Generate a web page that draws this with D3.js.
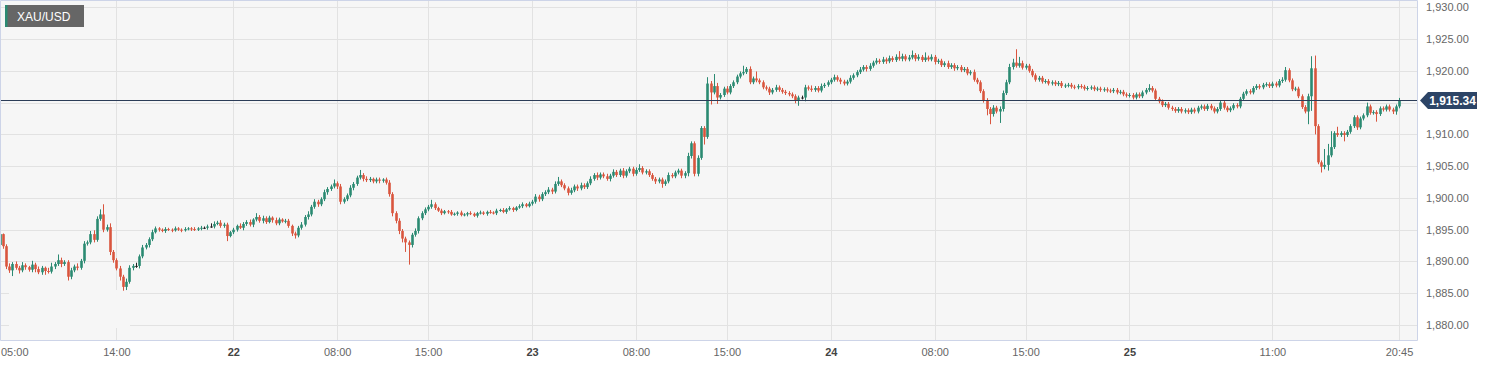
<!DOCTYPE html>
<html>
<head>
<meta charset="utf-8">
<script src="https://cdn.jsdelivr.net/npm/d3@7"></script>
<style>
  html, body { margin: 0; padding: 0; background: #fff; }
  svg { display: block; font-family: "Liberation Sans", Arial, Helvetica, sans-serif; }
</style>
</head>
<body>
<div id="chart"></div>
<script>
// XAU/USD 15-minute candles, 21st 05:00 -> 25th 20:45 (hour 22 closed each day)
var symbol = "XAU/USD";
var lastPrice = 1915.34;
var firstOpen = 1892.6;

var close21 = [
  1894.3,1892.4,1889.2,1888.6,1889.6,1889.0,1888.6,1889.4,1889.1,1888.7,
  1889.5,1888.8,1888.3,1889.0,1888.5,1888.4,1889.2,1889.6,1890.2,1889.6,
  1889.9,1887.6,1888.6,1889.2,1889.0,1890.1,1892.8,1893.0,1894.3,1893.4,
  1896.7,1897.4,1895.0,1895.4,1891.5,1890.2,1888.9,1887.6,1886.0,1886.8,
  1889.0,1889.3,1889.3,1890.8,1892.2,1892.6,1893.5,1894.6,1895.2,1895.0,
  1894.8,1895.1,1895.0,1894.9,1895.2,1895.0,1894.9,1895.1,1895.2,1895.1,
  1895.0,1895.2,1895.3,1895.3,1895.5,1895.5,1895.9,1896.1,1895.6,1895.8,
  1894.0,1894.6
];
var close22 = [
  1895.0,1895.6,1895.3,1895.9,1896.2,1895.8,1896.6,1897.0,1896.4,1896.8,
  1896.2,1896.9,1896.5,1896.0,1896.6,1896.3,1896.4,1895.6,1894.4,1894.1,
  1895.3,1895.8,1897.0,1897.4,1898.6,1899.4,1899.0,1899.8,1900.9,1901.4,
  1901.8,1902.3,1901.8,1899.4,1899.8,1900.4,1901.6,1902.2,1903.2,1903.6,
  1903.0,1902.8,1903.0,1902.6,1902.9,1902.7,1902.9,1902.4,1900.6,1897.6,
  1896.4,1894.8,1893.6,1893.0,1892.6,1894.2,1894.8,1896.8,1897.6,1898.2,
  1898.6,1899.0,1898.4,1898.0,1897.6,1897.9,1897.8,1897.4,1897.5,1897.7,
  1897.3,1897.4,1897.6,1897.5,1897.2,1897.6,1897.7,1897.5,1897.8,1897.7,
  1897.6,1898.0,1898.1,1897.8,1898.2,1898.4,1898.1,1898.5,1898.7,1899.0,
  1898.7,1899.1
];
var close23 = [
  1899.4,1900.2,1899.8,1900.6,1900.9,1901.3,1901.0,1902.2,1902.6,1902.0,
  1901.5,1900.8,1901.2,1901.8,1901.5,1902.0,1901.7,1902.3,1903.0,1903.6,
  1903.2,1903.7,1903.4,1903.0,1903.5,1904.1,1903.6,1904.3,1903.5,1904.2,
  1904.6,1903.8,1904.4,1904.7,1904.0,1904.2,1903.6,1903.0,1902.6,1902.9,
  1902.2,1902.6,1903.6,1903.4,1904.0,1904.3,1903.5,1903.9,1906.6,1908.6,
  1903.8,1906.3,1911.0,1909.6,1918.0,1916.6,1917.6,1915.8,1916.2,1917.2,
  1916.6,1917.6,1918.2,1919.1,1919.6,1919.8,1920.3,1918.2,1918.8,1918.5,
  1918.2,1917.4,1917.2,1916.6,1917.0,1917.4,1917.0,1916.7,1916.5,1916.3,
  1916.0,1915.3,1915.8,1915.8,1917.4,1917.2,1917.0,1917.3,1916.9,1917.6,
  1917.8,1918.2
];
var close24 = [
  1918.6,1919.0,1918.6,1918.3,1918.0,1918.3,1918.9,1919.3,1919.8,1920.2,
  1920.6,1920.3,1920.8,1921.3,1921.6,1921.4,1921.8,1921.5,1922.0,1921.7,
  1922.2,1921.9,1922.3,1921.8,1922.1,1922.5,1921.9,1922.2,1921.7,1922.1,
  1921.8,1922.2,1921.4,1921.6,1920.9,1921.2,1920.6,1920.9,1920.4,1920.6,
  1920.1,1920.3,1919.6,1919.8,1918.6,1918.2,1916.8,1915.4,1914.0,1913.2,
  1914.2,1913.6,1914.0,1916.5,1918.2,1920.6,1921.3,1920.8,1921.2,1920.5,
  1920.8,1920.0,1919.3,1918.6,1918.9,1918.3,1918.4,1918.0,1918.2,1917.9,
  1918.1,1917.6,1917.7,1917.8,1917.5,1917.4,1917.6,1917.5,1917.2,1917.3,
  1917.4,1917.1,1917.2,1917.0,1917.1,1916.9,1916.8,1917.0,1916.6,1916.7,
  1916.3,1916.1
];
var close25 = [
  1916.2,1915.8,1916.3,1916.0,1916.6,1917.0,1917.3,1916.9,1915.6,1915.2,
  1914.6,1914.8,1914.2,1914.0,1913.7,1914.0,1913.6,1913.8,1913.5,1913.9,
  1913.6,1914.2,1914.4,1914.0,1914.5,1914.1,1913.6,1914.0,1915.0,1914.2,
  1913.8,1914.1,1914.6,1914.4,1915.6,1916.4,1916.8,1916.6,1917.3,1917.6,
  1917.4,1917.8,1917.9,1917.6,1918.0,1917.7,1918.4,1918.6,1920.1,1918.5,
  1917.1,1917.2,1916.0,1914.3,1913.6,1916.0,1920.4,1911.3,1905.6,1904.9,
  1905.2,1906.7,1908.0,1910.2,1909.9,1910.2,1909.9,1910.4,1911.3,1912.7,
  1911.1,1912.5,1913.0,1914.4,1913.4,1913.5,1913.2,1914.1,1913.9,1914.4,
  1913.9,1913.6,1914.4,1915.34
];

// wick lengths beyond the body, in dollars
var wickHi21 = [
  0.4,0.1,0.3,0.5,0.3,0.4,0.3,0.5,0.3,0.2,
  0.6,0.3,0.4,0.3,0.2,0.5,0.6,0.3,0.9,0.4,
  0.3,0.3,0.4,0.3,0.5,0.3,0.4,0.3,0.5,0.6,
  0.4,0.8,1.6,0.4,0.6,0.3,0.3,0.4,0.3,0.5,
  0.4,0.3,0.5,0.3,0.4,0.3,0.3,0.4,0.3,0.2,
  0.2,0.3,0.2,0.2,0.3,0.2,0.2,0.3,0.2,0.2,
  0.3,0.2,0.3,0.2,0.3,0.5,0.4,0.3,0.4,0.3,
  0.3,0.2
];
var wickLo21 = [
  0.3,0.4,0.4,0.4,0.9,0.3,0.5,0.3,0.4,0.3,
  0.4,0.5,0.3,0.4,0.6,0.3,0.3,0.4,0.3,0.5,
  0.3,0.6,0.4,0.3,0.4,0.3,0.4,0.3,0.3,0.4,
  0.3,0.3,0.4,0.3,0.5,0.4,0.3,0.6,0.6,0.5,
  0.3,0.4,0.3,0.4,0.3,0.3,0.4,0.3,0.2,0.3,
  0.2,0.3,0.2,0.3,0.2,0.2,0.3,0.2,0.2,0.3,
  0.2,0.2,0.3,0.2,0.3,0.2,0.3,0.2,0.3,0.3,
  0.8,0.2
];
var wickHi22 = [
  0.3,0.2,0.4,0.3,0.3,0.4,0.2,0.6,0.3,0.4,
  0.3,0.3,0.2,0.4,0.3,0.2,0.3,0.3,0.2,0.3,
  0.3,0.4,0.3,0.5,0.3,0.4,0.3,0.3,0.4,0.3,
  0.3,0.6,0.3,0.4,0.3,0.3,0.4,0.3,0.3,0.8,
  0.3,0.4,0.3,0.2,0.3,0.3,0.2,0.3,0.4,0.3,
  0.3,0.4,0.3,0.3,0.3,0.3,0.4,0.3,0.3,0.3,
  0.3,0.7,0.3,0.2,0.3,0.2,0.2,0.3,0.2,0.2,
  0.3,0.2,0.2,0.3,0.2,0.2,0.3,0.2,0.2,0.3,
  0.2,0.3,0.2,0.3,0.2,0.3,0.2,0.2,0.3,0.3,
  0.2,0.3
];
var wickLo22 = [
  0.3,0.3,0.2,0.4,0.3,0.3,0.4,0.3,0.3,0.4,
  0.3,0.2,0.4,0.3,0.3,0.2,0.3,0.3,0.4,0.5,
  0.3,0.3,0.3,0.4,0.3,0.3,0.4,0.3,0.3,0.4,
  0.3,0.3,0.4,0.4,0.3,0.3,0.3,0.4,0.3,0.3,
  0.4,0.3,0.3,0.3,0.3,0.4,0.3,0.3,0.4,0.5,
  0.4,0.5,0.6,1.5,3.1,0.4,0.3,0.4,0.3,0.3,
  0.3,0.3,0.3,0.2,0.3,0.2,0.3,0.2,0.2,0.3,
  0.2,0.2,0.3,0.2,0.2,0.3,0.2,0.2,0.3,0.2,
  0.2,0.3,0.2,0.2,0.3,0.2,0.3,0.2,0.2,0.3,
  0.2,0.2
];
var wickHi23 = [
  0.3,0.4,0.3,0.3,0.3,0.4,0.3,0.4,0.7,0.3,
  0.3,0.3,0.4,0.3,0.3,0.4,0.3,0.3,0.4,0.3,
  0.4,0.3,0.3,0.4,0.3,0.4,0.3,0.3,0.4,0.3,
  0.3,0.3,0.4,0.6,0.3,0.3,0.3,0.3,0.3,0.3,
  0.3,0.3,0.4,0.3,0.3,0.3,0.3,0.3,0.5,0.3,
  0.3,0.4,0.3,0.3,1.0,0.4,1.9,0.5,0.3,0.3,
  0.4,0.3,0.3,0.3,0.3,1.0,0.3,0.4,0.3,1.1,
  0.3,0.3,0.3,0.3,0.3,0.4,0.3,0.3,0.3,0.3,
  0.3,0.3,0.3,0.3,0.4,0.3,0.5,0.3,0.3,0.4,
  0.3,0.3
];
var wickLo23 = [
  0.3,0.3,0.4,0.3,0.3,0.3,0.4,0.3,0.3,0.3,
  0.3,0.4,0.3,0.3,0.4,0.3,0.3,0.3,0.3,0.3,
  0.4,0.3,0.3,0.3,0.4,0.3,0.3,0.3,0.4,0.3,
  0.3,0.4,0.3,0.3,0.3,0.3,0.3,0.3,0.4,0.3,
  0.6,0.3,0.3,0.3,0.3,0.3,0.4,0.4,0.5,0.4,
  0.4,0.4,0.3,1.2,0.3,1.9,0.3,1.0,0.3,0.3,
  0.3,0.3,0.3,0.3,0.3,0.3,0.3,0.3,0.3,0.3,
  0.3,0.3,0.3,0.4,0.3,0.3,0.3,0.3,0.3,0.3,
  0.3,0.4,0.8,0.3,0.6,0.3,0.3,0.3,0.3,0.3,
  0.3,0.3
];
var wickHi24 = [
  0.3,0.4,0.3,0.3,0.3,0.3,0.4,0.3,0.3,0.4,
  0.3,0.3,0.4,0.3,0.4,0.3,0.4,0.3,0.4,0.3,
  0.4,0.9,0.4,0.3,0.4,0.7,0.3,0.4,0.3,0.8,
  0.3,0.4,0.3,0.3,0.3,0.3,0.4,0.3,0.3,0.3,
  0.3,0.3,0.3,0.3,0.4,0.3,0.3,0.3,0.3,0.3,
  0.4,0.3,0.4,0.4,0.4,0.5,0.6,2.1,1.0,0.4,
  0.3,0.3,0.3,0.3,0.3,0.3,0.3,0.3,0.3,0.3,
  0.3,0.3,0.3,0.3,0.3,0.3,0.3,0.3,0.3,0.3,
  0.3,0.3,0.3,0.3,0.3,0.3,0.3,0.3,0.3,0.3,
  0.3,0.3
];
var wickLo24 = [
  0.3,0.3,0.3,0.4,0.3,0.3,0.3,0.3,0.3,0.3,
  0.3,0.4,0.3,0.3,0.3,0.3,0.3,0.4,0.3,0.3,
  0.3,0.3,0.4,0.3,0.3,0.3,0.4,0.3,0.3,0.3,
  0.3,0.3,0.4,0.3,0.3,0.3,0.3,0.3,0.4,0.3,
  0.3,0.3,0.3,0.3,0.3,0.3,0.3,0.4,1.0,1.6,
  0.4,0.3,1.8,0.4,0.3,0.3,0.4,0.3,0.3,0.3,
  0.3,0.3,0.3,0.3,0.3,0.3,0.3,0.3,0.3,0.3,
  0.3,0.3,0.3,0.3,0.3,0.3,0.3,0.3,0.3,0.3,
  0.3,0.3,0.3,0.3,0.3,0.3,0.3,0.3,0.3,0.3,
  0.3,0.3
];
var wickHi25 = [
  0.3,0.3,0.3,0.3,0.3,0.3,0.6,0.3,0.3,0.3,
  0.3,0.3,0.3,0.3,0.3,0.3,0.3,0.3,0.3,0.3,
  0.3,0.3,0.3,0.3,0.3,0.3,0.3,0.3,0.4,0.3,
  0.3,0.3,0.3,0.3,0.3,0.3,0.3,0.3,0.3,0.3,
  0.3,0.3,0.3,0.3,0.3,0.3,0.3,0.4,0.5,0.3,
  0.3,0.3,0.3,0.3,0.3,0.4,1.9,2.0,0.3,0.3,
  2.5,1.8,2.5,0.3,1.0,0.3,0.3,0.3,0.3,0.3,
  0.3,0.3,0.3,0.6,0.3,0.3,0.3,0.3,0.3,0.3,
  0.3,0.3,0.3,0.4
];
var wickLo25 = [
  0.3,0.3,0.3,0.3,0.3,0.3,0.3,0.3,0.3,0.3,
  0.3,0.3,0.3,0.3,0.3,0.3,0.3,0.3,0.3,0.3,
  0.3,0.3,0.3,0.3,0.3,0.3,0.3,0.3,0.3,0.3,
  0.3,0.3,0.3,0.3,0.3,0.3,0.3,0.3,0.3,0.3,
  0.3,0.3,0.3,0.3,0.3,0.3,0.3,0.3,0.3,0.3,
  0.3,0.3,0.3,0.3,0.3,2.0,2.3,1.3,0.3,0.9,
  0.4,0.9,0.3,0.3,0.3,0.3,1.0,0.3,0.3,0.3,
  0.4,0.3,0.3,0.3,0.3,0.3,1.2,0.3,0.3,0.3,
  0.3,0.4,0.5,0.3
];

// x axis: candle index of each label
var tickIndex = [0, 36, 72, 104, 132, 164, 196, 224, 256, 288, 316, 348, 392, 431];
var tickLabel = ["05:00", "14:00", "22", "08:00", "15:00", "23", "08:00", "15:00", "24", "08:00", "15:00", "25", "11:00", "20:45"];
// grid every 5; the 1,915 label is hidden behind the price tag
var priceTicks = [1880, 1885, 1890, 1895, 1900, 1905, 1910, 1915, 1920, 1925, 1930];
var priceLabels = [1880, 1885, 1890, 1895, 1900, 1905, 1910, 1920, 1925, 1930];

var W = 1488, H = 366;
var plot = { left: 0.5, right: 1417.5, top: 0.5, bottom: 340.5 };
var UP = "#2b8a72", DOWN = "#d9553e", DOJI = "#222";

var closes = [].concat(close21, close22, close23, close24, close25);
var wHi = [].concat(wickHi21, wickHi22, wickHi23, wickHi24, wickHi25);
var wLo = [].concat(wickLo21, wickLo22, wickLo23, wickLo24, wickLo25);

var candles = closes.map(function (c, i) {
    var o = i ? closes[i - 1] : firstOpen;
    return {
        i: i, o: o, c: c,
        h: Math.max(o, c) + wHi[i],
        l: Math.min(o, c) - wLo[i]
    };
});

var x = d3.scaleLinear().domain([0, closes.length - 1]).range([-0.5, 1399]);
var y = d3.scaleLinear().domain([1880, 1930]).range([325, 7.3]);

var svg = d3.select("#chart").append("svg")
    .attr("width", W)
    .attr("height", H);

svg.append("defs").append("clipPath")
    .attr("id", "plotclip")
  .append("rect")
    .attr("x", plot.left).attr("y", plot.top)
    .attr("width", plot.right - plot.left).attr("height", plot.bottom - plot.top);

svg.append("rect")
    .attr("x", plot.left).attr("y", plot.top)
    .attr("width", plot.right - plot.left).attr("height", plot.bottom - plot.top)
    .attr("fill", "#f6f6f6");

// grid
var grid = svg.append("g").attr("clip-path", "url(#plotclip)");
grid.selectAll("line.h").data(priceTicks).enter().append("line")
    .attr("class", "h")
    .attr("x1", plot.left).attr("x2", plot.right)
    .attr("y1", function (d) { return Math.round(y(d)) + 0.5; })
    .attr("y2", function (d) { return Math.round(y(d)) + 0.5; })
    .attr("stroke", "#e2e2e2");
grid.selectAll("line.v").data(tickIndex.slice(1)).enter().append("line")
    .attr("class", "v")
    .attr("y1", plot.top).attr("y2", plot.bottom)
    .attr("x1", function (d) { return Math.round(x(d)) + 0.5; })
    .attr("x2", function (d) { return Math.round(x(d)) + 0.5; })
    .attr("stroke", "#e2e2e2");

// blank patch bottom-left (hidden logo area)
svg.append("rect")
    .attr("x", 9).attr("y", 290).attr("width", 121).attr("height", 38)
    .attr("fill", "#f6f6f6");

// candles
var cg = svg.append("g").attr("clip-path", "url(#plotclip)");
function colour(d) { return d.c > d.o ? UP : (d.c < d.o ? DOWN : DOJI); }

cg.selectAll("line.wick").data(candles).enter().append("line")
    .attr("class", "wick")
    .attr("x1", function (d) { return Math.round(x(d.i)) + 0.5; })
    .attr("x2", function (d) { return Math.round(x(d.i)) + 0.5; })
    .attr("y1", function (d) { return y(d.h); })
    .attr("y2", function (d) { return y(d.l); })
    .attr("stroke", colour)
    .attr("stroke-width", 1);

cg.selectAll("rect.body").data(candles).enter().append("rect")
    .attr("class", "body")
    .attr("x", function (d) { return Math.round(x(d.i)) - 0.8; })
    .attr("width", 2.6)
    .attr("y", function (d) { return y(Math.max(d.o, d.c)); })
    .attr("height", function (d) { return Math.max(1, y(Math.min(d.o, d.c)) - y(Math.max(d.o, d.c))); })
    .attr("fill", colour);

// current price line
var py = Math.round(y(lastPrice)) + 0.5;
svg.append("line")
    .attr("x1", plot.left).attr("x2", plot.right)
    .attr("y1", py).attr("y2", py)
    .attr("stroke", "#2c3d58").attr("stroke-width", 1.2);

// frame
svg.append("path")
    .attr("d", "M" + plot.left + "," + plot.bottom + "V" + plot.top + "H" + plot.right + "V" + plot.bottom + "H" + plot.left)
    .attr("fill", "none")
    .attr("stroke", "#cdd4e8");

// y axis (right)
var yAxis = d3.axisRight(y)
    .tickValues(priceLabels)
    .tickSize(0)
    .tickPadding(0)
    .tickFormat(d3.format(",.2f"));
var yg = svg.append("g")
    .attr("transform", "translate(1426,0)")
    .call(yAxis);
yg.select(".domain").remove();
yg.selectAll("text")
    .attr("fill", "#666")
    .attr("font-size", 11)
    .attr("font-family", "Liberation Sans, Arial, sans-serif");

// x axis (bottom)
var xAxis = d3.axisBottom(x)
    .tickValues(tickIndex)
    .tickSize(0)
    .tickPadding(0)
    .tickFormat(function (d, k) { return tickLabel[k]; });
var xg = svg.append("g")
    .attr("transform", "translate(0,348)")
    .call(xAxis);
xg.select(".domain").remove();
xg.selectAll("text")
    .attr("font-size", 11)
    .attr("font-family", "Liberation Sans, Arial, sans-serif")
    .attr("fill", function (d, k) { return /^\d\d$/.test(tickLabel[k]) ? "#444" : "#666"; })
    .attr("font-weight", function (d, k) { return /^\d\d$/.test(tickLabel[k]) ? "bold" : "normal"; })
    .attr("text-anchor", function (d, k) { return k === 0 ? "start" : "middle"; })
    .attr("x", function (d, k) { return k === 0 ? 0.5 - x(d) : 0; });

// price tag
var tag = svg.append("g").attr("transform", "translate(0," + py + ")");
tag.append("path")
    .attr("d", "M1420,0 L1428,-8.5 H1477 V8.5 H1428 Z")
    .attr("fill", "#2c4466");
tag.append("text")
    .attr("x", 1452.5).attr("y", 4.2)
    .attr("text-anchor", "middle")
    .attr("fill", "#fff")
    .attr("font-size", 12)
    .attr("font-weight", "bold")
    .text(d3.format(",.2f")(lastPrice));

// symbol label
var lab = svg.append("g");
lab.append("rect")
    .attr("x", 5).attr("y", 5).attr("width", 79).attr("height", 22)
    .attr("fill", "#666");
lab.append("rect")
    .attr("x", 5).attr("y", 5).attr("width", 2.5).attr("height", 22)
    .attr("fill", "#2b8a72");
lab.append("text")
    .attr("x", 17).attr("y", 20.5)
    .attr("fill", "#fff")
    .attr("font-size", 12)
    .text(symbol);
</script>
</body>
</html>
